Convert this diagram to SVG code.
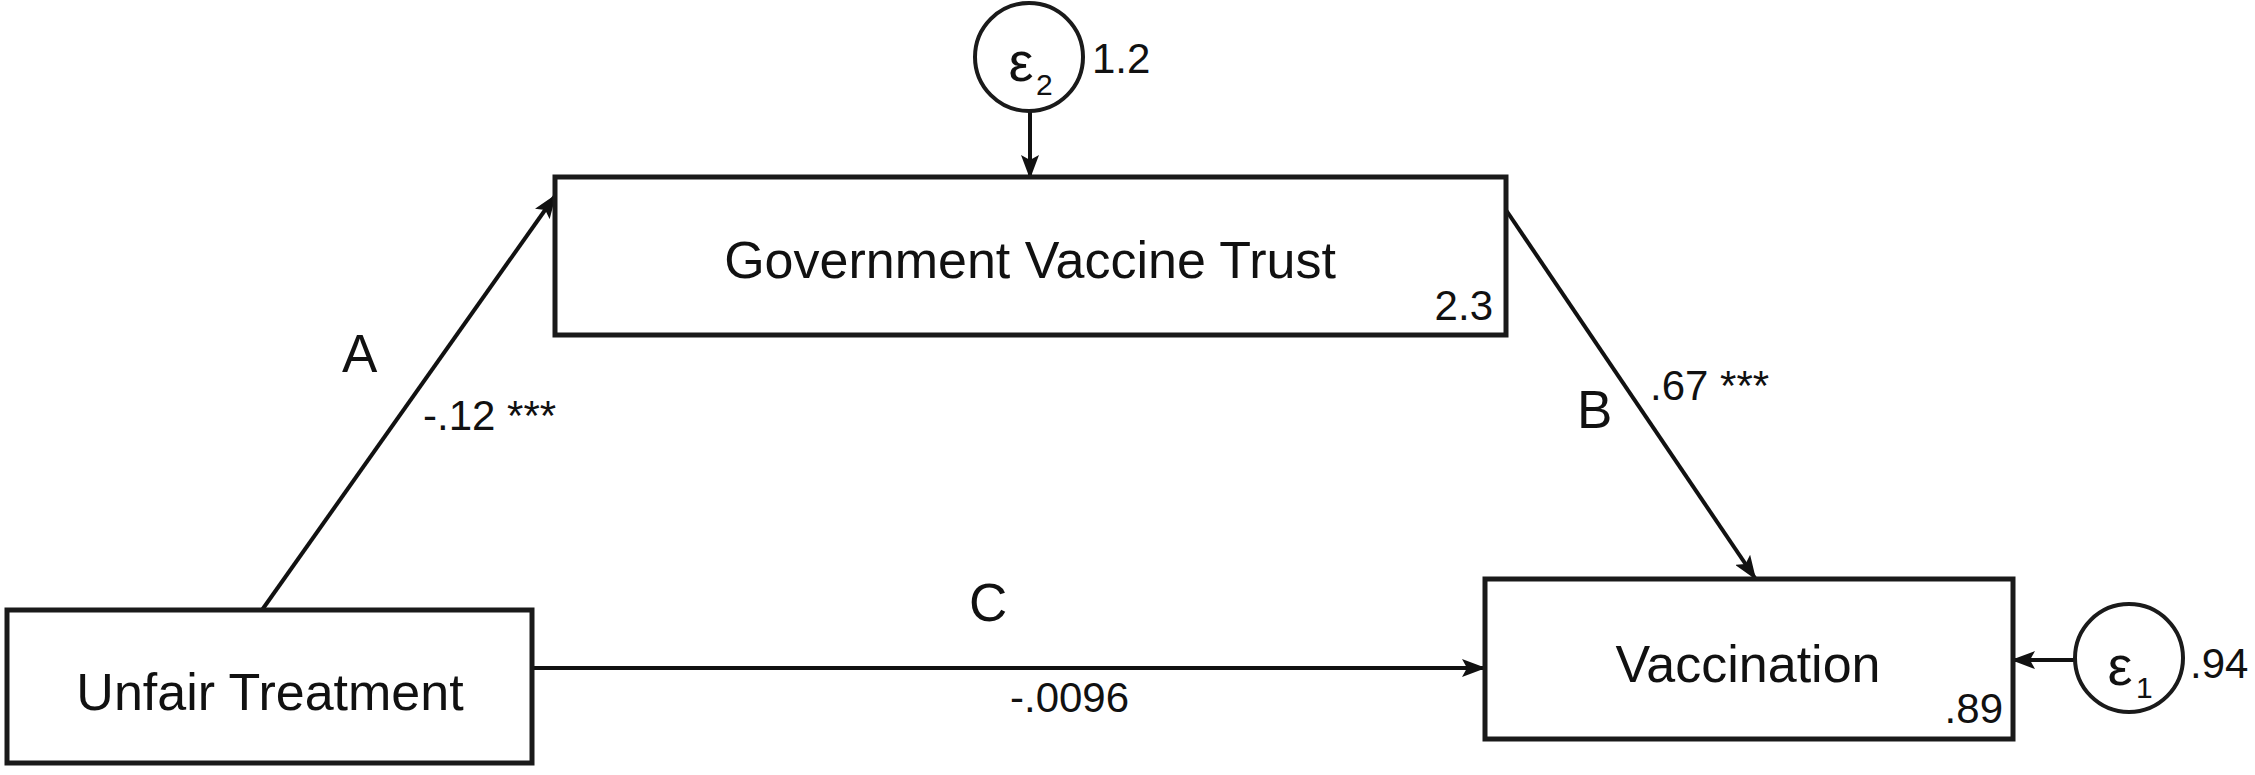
<svg xmlns="http://www.w3.org/2000/svg" width="2255" height="775" viewBox="0 0 2255 775">
<defs>
<marker id="ah" markerWidth="24" markerHeight="18" refX="22" refY="9" orient="auto" markerUnits="userSpaceOnUse">
<path d="M0,0 L24,9 L0,18 L5,9 Z" fill="#111"/>
</marker>
<style>
.box{fill:#fff;stroke:#1a1a1a;stroke-width:5}
.err{fill:#fff;stroke:#1a1a1a;stroke-width:4}
.lbl{font-family:"Liberation Sans",Arial,sans-serif;fill:#111}
.node{font-size:52px;text-anchor:middle}
.num{font-size:42px}
.let{font-size:53px}
.eps{font-size:56px;text-anchor:middle}
.sub{font-size:30px}
.edge{stroke:#111;stroke-width:4;fill:none;marker-end:url(#ah)}
</style>
</defs>
<rect width="2255" height="775" fill="#fff"/>
<g id="connectors">
<line class="edge" x1="262" y1="610" x2="555" y2="196"/>
<line class="edge" x1="1506" y1="210" x2="1755" y2="578"/>
<line class="edge" x1="532" y1="668" x2="1484" y2="668"/>
<line class="edge" x1="1030" y1="111" x2="1030" y2="177"/>
<line class="edge" x1="2075" y1="660" x2="2013" y2="660"/>
<text class="lbl let" x="342" y="372">A</text>
<text class="lbl num" x="423" y="430">-.12 ***</text>
<text class="lbl let" x="1577" y="428">B</text>
<text class="lbl num" x="1650" y="400">.67 ***</text>
<text class="lbl let" x="969" y="621">C</text>
<text class="lbl num" x="1010" y="712">-.0096</text>
</g>
<g id="node-gov">
<rect class="box" x="555" y="177" width="951" height="158"/>
<text class="lbl node" x="1030" y="278">Government Vaccine Trust</text>
<text class="lbl num" x="1493" y="320" text-anchor="end">2.3</text>
</g>
<g id="node-unfair">
<rect class="box" x="7" y="610" width="525" height="153"/>
<text class="lbl node" x="270" y="710">Unfair Treatment</text>
</g>
<g id="node-vacc">
<rect class="box" x="1485" y="579" width="528" height="160"/>
<text class="lbl node" x="1748" y="682">Vaccination</text>
<text class="lbl num" x="2003" y="723" text-anchor="end">.89</text>
</g>
<g id="node-e2">
<circle class="err" cx="1029" cy="57" r="54"/>
<text class="lbl eps" x="1021" y="81">ε</text>
<text class="lbl sub" x="1036" y="95">2</text>
<text class="lbl num" x="1092" y="73">1.2</text>
</g>
<g id="node-e1">
<circle class="err" cx="2129" cy="658" r="54"/>
<text class="lbl eps" x="2120" y="685">ε</text>
<text class="lbl sub" x="2136" y="698">1</text>
<text class="lbl num" x="2190" y="678">.94</text>
</g>
</svg>
